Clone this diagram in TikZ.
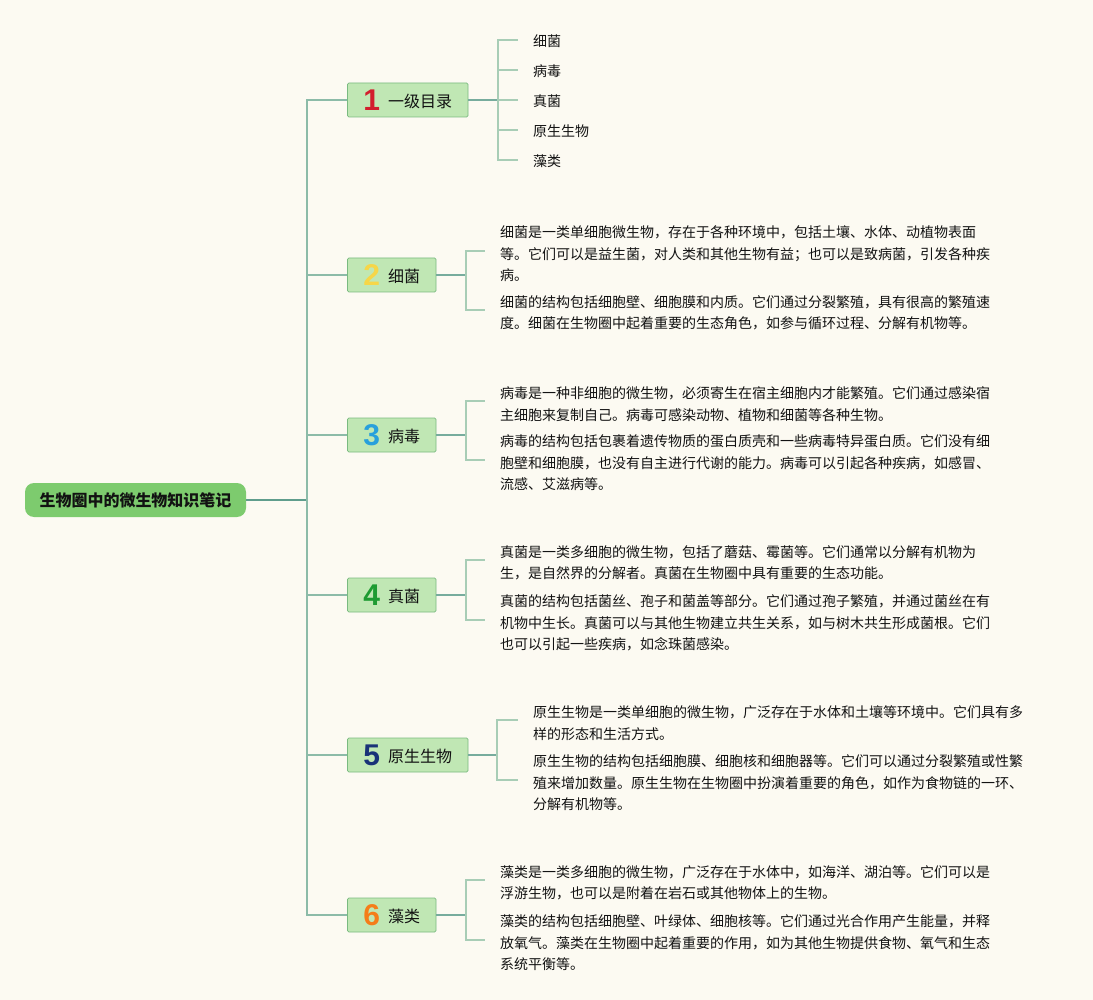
\documentclass[tikz,border=0pt]{standalone}
\usepackage{fontspec}
\setmainfont{Noto Sans CJK SC}
\newfontfamily\numfont{Liberation Sans}
\usetikzlibrary{positioning}
\definecolor{paper}{RGB}{252,250,242}
\definecolor{leafgreen}{RGB}{125,203,110}
\definecolor{palegreen}{RGB}{192,231,180}
\definecolor{edgegreen}{RGB}{122,186,128}
\definecolor{trunkteal}{RGB}{95,157,140}
\definecolor{softteal}{RGB}{140,187,168}
\definecolor{twiggreen}{RGB}{168,205,182}
\definecolor{ink}{RGB}{18,18,18}
\definecolor{numred}{RGB}{210,30,45}
\definecolor{numyellow}{RGB}{246,214,72}
\definecolor{numblue}{RGB}{40,160,220}
\definecolor{numgreen}{RGB}{30,155,50}
\definecolor{numnavy}{RGB}{25,50,120}
\definecolor{numorange}{RGB}{245,125,25}
\tikzset{
  root/.style={fill=leafgreen,rounded corners=9pt,minimum height=34pt,inner xsep=14.5pt,inner ysep=0pt,text=ink,font=\fontsize{16}{16}\selectfont\bfseries},
  topic/.style={draw=edgegreen,fill=palegreen,line width=0.8pt,rounded corners=1.5pt,minimum height=34pt,inner xsep=16pt,inner ysep=0pt,anchor=west,text=ink,font=\fontsize{16}{16}\selectfont},
  note/.style={anchor=west,align=left,inner sep=0pt,text=ink,font=\fontsize{14}{21.5}\selectfont},
  mainline/.style={draw=trunkteal,line width=1.6pt},
  branchline/.style={draw=softteal,line width=1.3pt},
  stemline/.style={draw=trunkteal!85,line width=1.5pt},
  twig/.style={draw=twiggreen,line width=1.2pt}
}
\newcommand{\topicnum}[2]{\raisebox{-3pt}{\numfont\bfseries\fontsize{30}{30}\selectfont\color{#1}#2}\hspace{8pt}}

\begin{document}
\begin{tikzpicture}[x=1pt,y=-1pt]
\fill[paper] (0,0) rectangle (1093,1000);
\useasboundingbox (0,0) rectangle (1093,1000);
\node[root] (root) at (135.5,500) {生物圈中的微生物知识笔记};
\coordinate (hub) at (307,500);
\draw[mainline] (root.east) -- (hub);
\foreach \y/\col/\num/\lab/\name in {100/numred/1/一级目录/b1,275/numyellow/2/细菌/b2,435/numblue/3/病毒/b3,595/numgreen/4/真菌/b4,755/numnavy/5/原生生物/b5,915/numorange/6/藻类/b6} {
 \node[topic] (\name) at (347,\y) {\topicnum{\col}{\num}\lab};
 \draw[branchline] (hub) |- (\name.west);
}
\coordinate (k1) at (498,100);
\draw[stemline] (b1.east) -- (k1);
\foreach \y/\lab/\name in {40/细菌/c1,70/病毒/c2,100/真菌/c3,130/原生生物/c4,160/藻类/c5} {
 \node[note] (\name) at (533,\y+1) {\lab};
 \draw[twig] (k1) |- ([xshift=-15pt,yshift=1pt]\name.west);
}
\node[note] (n2a) at (500,254) {细菌是一类单细胞微生物，存在于各种环境中，包括土壤、水体、动植物表面\\等。它们可以是益生菌，对人类和其他生物有益；也可以是致病菌，引发各种疾\\病。};
\node[note] (n2b) at (500,313) {细菌的结构包括细胞壁、细胞膜和内质。它们通过分裂繁殖，具有很高的繁殖速\\度。细菌在生物圈中起着重要的生态角色，如参与循环过程、分解有机物等。};
\node[note] (n3a) at (500,404) {病毒是一种非细胞的微生物，必须寄生在宿主细胞内才能繁殖。它们通过感染宿\\主细胞来复制自己。病毒可感染动物、植物和细菌等各种生物。};
\node[note] (n3b) at (500,463) {病毒的结构包括包裹着遗传物质的蛋白质壳和一些病毒特异蛋白质。它们没有细\\胞壁和细胞膜，也没有自主进行代谢的能力。病毒可以引起各种疾病，如感冒、\\流感、艾滋病等。};
\node[note] (n4a) at (500,563) {真菌是一类多细胞的微生物，包括了蘑菇、霉菌等。它们通常以分解有机物为\\生，是自然界的分解者。真菌在生物圈中具有重要的生态功能。};
\node[note] (n4b) at (500,623) {真菌的结构包括菌丝、孢子和菌盖等部分。它们通过孢子繁殖，并通过菌丝在有\\机物中生长。真菌可以与其他生物建立共生关系，如与树木共生形成菌根。它们\\也可以引起一些疾病，如念珠菌感染。};
\node[note] (n5a) at (533,723) {原生生物是一类单细胞的微生物，广泛存在于水体和土壤等环境中。它们具有多\\样的形态和生活方式。};
\node[note] (n5b) at (533,783) {原生生物的结构包括细胞膜、细胞核和细胞器等。它们可以通过分裂繁殖或性繁\\殖来增加数量。原生生物在生物圈中扮演着重要的角色，如作为食物链的一环、\\分解有机物等。};
\node[note] (n6a) at (500,883) {藻类是一类多细胞的微生物，广泛存在于水体中，如海洋、湖泊等。它们可以是\\浮游生物，也可以是附着在岩石或其他物体上的生物。};
\node[note] (n6b) at (500,943) {藻类的结构包括细胞壁、叶绿体、细胞核等。它们通过光合作用产生能量，并释\\放氧气。藻类在生物圈中起着重要的作用，如为其他生物提供食物、氧气和生态\\系统平衡等。};
\coordinate (k2) at (466,275);
\coordinate (k3) at (466,435);
\coordinate (k4) at (466,595);
\coordinate (k5) at (497,755);
\coordinate (k6) at (466,915);
\foreach \i in {2,3,4,5,6} {
 \draw[stemline] (b\i.east) -- (k\i);
 \draw[twig] (k\i) |- ([xshift=-15pt,yshift=3pt]n\i a.west);
 \draw[twig] (k\i) |- ([xshift=-15pt,yshift=3pt]n\i b.west);
}
\end{tikzpicture}
\end{document}
